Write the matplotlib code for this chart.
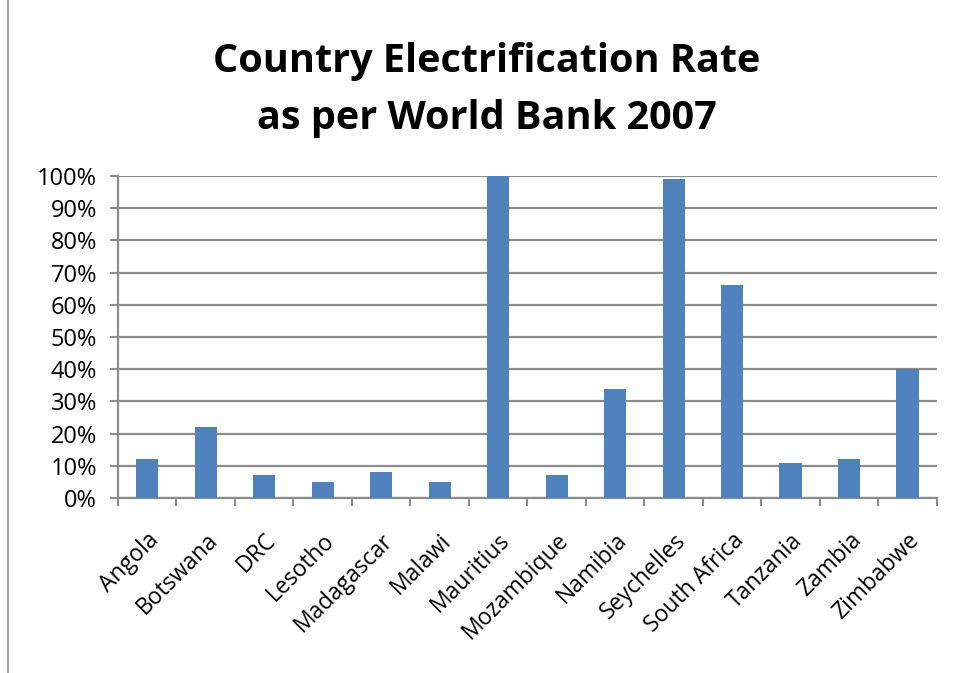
import numpy as np
import matplotlib.pyplot as plt
from matplotlib.ticker import FixedLocator, PercentFormatter
from matplotlib.lines import Line2D

countries = ['Angola', 'Botswana', 'DRC', 'Lesotho', 'Madagascar', 'Malawi',
             'Mauritius', 'Mozambique', 'Namibia', 'Seychelles', 'South Africa',
             'Tanzania', 'Zambia', 'Zimbabwe']
rate = [12, 22, 7, 5, 8, 5, 100, 7, 34, 99, 66, 11, 12, 40]

plt.rcParams['font.family'] = ['Open Sans', 'DejaVu Sans']

fig = plt.figure(figsize=(9.54, 6.73), dpi=100)
ax = fig.add_axes([0.1237, 0.26, 0.8583, 0.4785])

x = np.arange(len(countries))
ax.bar(x, rate, width=0.38, color='#4F81BD', zorder=3)

ax.set_xlim(-0.5, len(countries) - 0.5)
ax.set_ylim(0, 100)
ax.set_yticks(range(0, 101, 10))
ax.yaxis.set_major_formatter(PercentFormatter(decimals=0))
ax.grid(axis='y', color='#8C8C8C', linewidth=1.6, zorder=0)

ax.set_xticks(x)
ax.set_xticklabels(countries, rotation=45, ha='right', rotation_mode='anchor')
ax.xaxis.set_minor_locator(FixedLocator(np.arange(-0.5, len(countries), 1)))
ax.tick_params(axis='x', which='major', length=0, pad=22, labelsize=16.5)
ax.tick_params(axis='x', which='minor', length=6, width=1.5, color='#8C8C8C', direction='out')
ax.tick_params(axis='y', length=6, width=1.5, color='#8C8C8C', labelsize=17, pad=9)

for side in ['top', 'right']:
    ax.spines[side].set_visible(False)
for side in ['left', 'bottom']:
    ax.spines[side].set_color('#8C8C8C')
    ax.spines[side].set_linewidth(1.6)

fig.text(0.51, 0.866, 'Country Electrification Rate\nas per World Bank 2007',
         ha='center', va='center', fontsize=28.5, fontweight='bold', linespacing=1.6)

# chart border on the left
fig.add_artist(Line2D([0.0085, 0.0085], [0.0, 1.0], color='#8C8C8C', linewidth=1.2,
                      transform=fig.transFigure))

fig.savefig('out.png', dpi=100)
